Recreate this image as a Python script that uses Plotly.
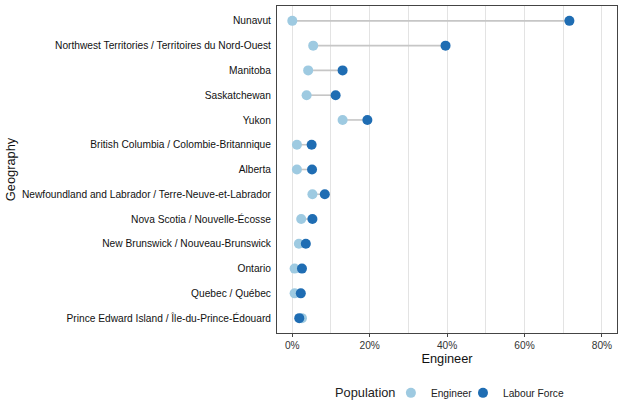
import plotly.graph_objects as go

geography = [
    "Nunavut",
    "Northwest Territories / Territoires du Nord-Ouest",
    "Manitoba",
    "Saskatchewan",
    "Yukon",
    "British Columbia / Colombie-Britannique",
    "Alberta",
    "Newfoundland and Labrador / Terre-Neuve-et-Labrador",
    "Nova Scotia / Nouvelle-Écosse",
    "New Brunswick / Nouveau-Brunswick",
    "Ontario",
    "Quebec / Québec",
    "Prince Edward Island / Île-du-Prince-Édouard",
]
engineer = [0.0, 5.4, 4.1, 3.7, 13.0, 1.2, 1.2, 5.2, 2.3, 1.7, 0.6, 0.6, 2.5]
labour_force = [71.6, 39.6, 13.0, 11.2, 19.4, 5.0, 5.1, 8.4, 5.2, 3.5, 2.5, 2.2, 1.8]
x_ticks = [0, 20, 40, 60, 80]
x_tick_labels = ["0%", "20%", "40%", "60%", "80%"]

c_eng = "#9ecae1"
c_lf = "#1f6db3"

seg_x, seg_y = [], []
for g, e, l in zip(geography, engineer, labour_force):
    seg_x += [e, l, None]
    seg_y += [g, g, None]

fig = go.Figure()
fig.add_trace(go.Scatter(x=seg_x, y=seg_y, mode="lines",
                         line=dict(color="#c6c6c6", width=1.6),
                         showlegend=False, hoverinfo="skip"))
fig.add_trace(go.Scatter(x=engineer, y=geography, mode="markers", name="Engineer",
                         marker=dict(color=c_eng, size=10), legend="legend"))
fig.add_trace(go.Scatter(x=labour_force, y=geography, mode="markers", name="Labour Force",
                         marker=dict(color=c_lf, size=10), legend="legend2"))

leg_common = dict(orientation="h", xanchor="left", y=-0.183, yanchor="middle",
                  font=dict(size=10.2, color="#222222"), itemwidth=30,
                  bgcolor="rgba(0,0,0,0)")

fig.update_layout(
    width=624, height=416,
    margin=dict(l=277, r=7, t=6, b=83, pad=0, autoexpand=False),
    plot_bgcolor="white", paper_bgcolor="white",
    font=dict(family="Liberation Sans, Arial, sans-serif", color="#222222", size=10.2),
    legend=dict(x=0.335, **leg_common),
    legend2=dict(x=0.547, **leg_common),
    annotations=[dict(text="Population", xref="paper", yref="paper", x=0.1647, y=-0.183,
                      xanchor="left", yanchor="middle", showarrow=False,
                      font=dict(size=12.8, color="#222222"))],
    xaxis=dict(range=[-3.95, 83.9], tickvals=x_ticks, ticktext=x_tick_labels,
               automargin=False,
               showgrid=True, gridcolor="#e3e3e3", gridwidth=1,
               minor=dict(dtick=10, tick0=0, showgrid=True, gridcolor="#e3e3e3", gridwidth=1),
               zeroline=False, showline=True, linecolor="#444444", linewidth=1, mirror=True,
               ticks="outside", ticklen=3, tickcolor="#444444",
               tickfont=dict(size=10.2, color="#333333"),
               title=dict(text="Engineer", font=dict(size=12.8, color="#111111"), standoff=0)),
    yaxis=dict(type="category", categoryorder="array", categoryarray=geography[::-1],
               automargin=False,
               range=[-0.6, 12.6], showgrid=False, zeroline=False,
               showline=True, linecolor="#444444", linewidth=1, mirror=True,
               ticks="", ticklabelstandoff=3,
               tickfont=dict(size=10.2, color="#111111"),
               title=dict(text="Geography", font=dict(size=12.8, color="#111111"), standoff=3)),
)
fig.write_html("out.html", config={"displayModeBar": False},
               post_script="document.body.style.margin='0';")
